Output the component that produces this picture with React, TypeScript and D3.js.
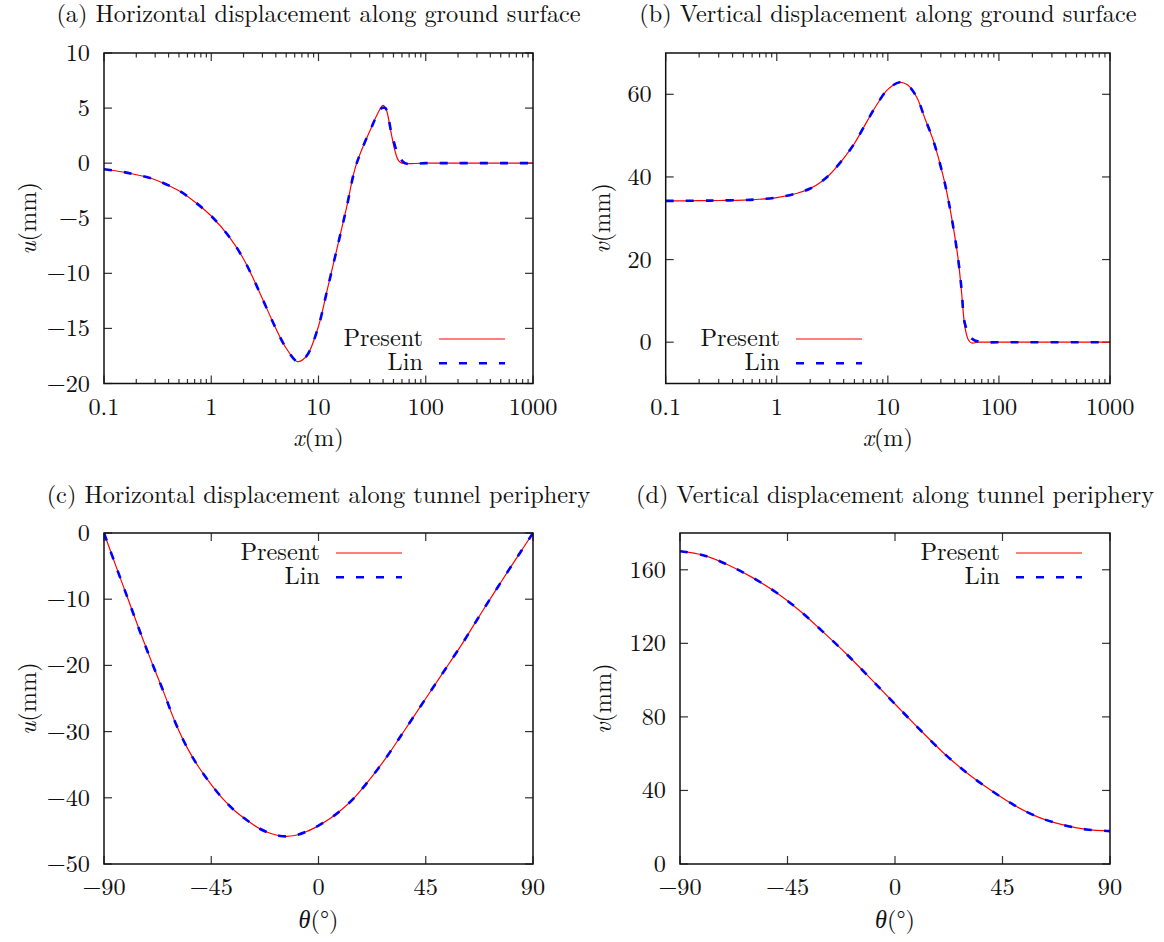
import React from "react";
import * as d3 from "d3";

// ---------- data ----------
// (a) horizontal displacement along ground surface, x in m (log axis), u in mm
const aPresentX = [0.1, 0.15, 0.2, 0.3, 0.5, 0.7, 1, 1.5, 2, 2.5, 3, 4, 5, 6.3, 7, 8, 10, 12, 15, 18.3, 21.9, 26, 32, 36, 40, 43, 47, 52, 56, 60, 100, 1000];
const aPresentU = [-0.55, -0.8, -1.05, -1.5, -2.5, -3.5, -4.8, -6.8, -8.7, -10.6, -12.3, -15.0, -16.8, -18.0, -17.9, -17.3, -14.8, -11.6, -7.6, -4.0, -0.5, 1.5, 3.5, 4.6, 5.25, 4.8, 3.0, 1.0, 0.2, 0.0, 0, 0];
const aLinX = [0.1, 0.15, 0.2, 0.3, 0.5, 0.7, 1, 1.5, 2, 2.5, 3, 4, 5, 6.3, 7, 8, 10, 12, 15, 18.3, 21.9, 26, 32, 36, 39, 42, 48, 55.3, 64, 100, 1000];
const aLinU = [-0.55, -0.8, -1.05, -1.5, -2.5, -3.5, -4.8, -6.8, -8.7, -10.6, -12.3, -15.0, -16.8, -18.0, -17.9, -17.3, -14.8, -11.6, -7.6, -4.0, -0.5, 1.5, 3.5, 4.6, 5.0, 5.0, 2.7, 0.8, 0.0, 0, 0];

// (b) vertical displacement along ground surface
const bPresentX = [0.1, 0.2, 0.3, 0.5, 0.7, 1, 1.5, 2, 2.5, 3, 4, 5, 6, 7, 8, 10, 12.8, 15, 18.2, 21.6, 25.6, 31.6, 35, 38.8, 43.1, 46.2, 49.4, 53, 56.8, 65, 100, 1000];
const bPresentV = [34.2, 34.25, 34.3, 34.4, 34.6, 35.0, 36.0, 37.2, 38.8, 40.6, 44.5, 48.1, 51.8, 55.0, 57.6, 61.2, 62.9, 62.3, 59.3, 54.1, 48.9, 40.0, 34.5, 27.9, 19.8, 11.8, 3.7, 0.6, -0.2, 0, 0, 0];
const bLinX = [0.1, 0.2, 0.3, 0.5, 0.7, 1, 1.5, 2, 2.5, 3, 4, 5, 6, 7, 8, 10, 12.8, 15, 18.2, 21.6, 25.6, 31.6, 35, 38.8, 43.1, 46.2, 49.4, 56.8, 70, 100, 1000];
const bLinV = [34.2, 34.25, 34.3, 34.4, 34.6, 35.0, 36.0, 37.2, 38.8, 40.6, 44.5, 48.1, 51.8, 55.0, 57.6, 61.2, 62.9, 62.3, 59.3, 54.1, 48.9, 40.0, 34.5, 27.9, 19.8, 12.5, 4.5, 0.9, 0, 0, 0];

// (c) horizontal displacement along tunnel periphery, theta in degrees
const cTheta = [-90, -85, -80, -75, -70, -65, -60, -55, -50, -45, -40, -35, -30, -25, -20, -15, -10, -5, 0, 5, 10, 15, 20, 25, 30, 35, 40, 45, 50, 55, 60, 65, 70, 75, 80, 85, 90];
const cPresentU = [0, -5.0, -9.9, -14.8, -19.5, -24.0, -28.7, -32.5, -35.5, -38.0, -40.2, -42.0, -43.4, -44.6, -45.4, -45.8, -45.7, -45.1, -44.2, -43.1, -41.7, -40.0, -37.9, -35.6, -33.1, -30.4, -27.7, -25.0, -22.3, -19.6, -16.9, -14.0, -11.1, -8.3, -5.5, -2.75, 0];
const cLinU = [0, -5.0, -9.9, -14.8, -19.5, -24.0, -28.7, -32.5, -35.5, -38.0, -40.2, -42.0, -43.4, -44.6, -45.4, -45.8, -45.7, -45.1, -44.2, -43.1, -41.7, -40.0, -37.9, -35.6, -33.1, -30.4, -27.7, -25.0, -22.3, -19.6, -16.9, -14.0, -11.1, -8.3, -5.5, -2.75, 0];

// (d) vertical displacement along tunnel periphery
const dTheta = [-90, -80, -70, -60, -50, -40, -30, -20, -10, 0, 10, 20, 30, 40, 50, 60, 70, 80, 90];
const dPresentV = [170.1, 167.8, 162.7, 156.0, 147.9, 137.9, 126.1, 113.8, 100.5, 87.0, 73.6, 60.8, 49.6, 40.2, 31.9, 25.5, 21.4, 18.8, 17.9];
const dLinV = [170.1, 167.8, 162.7, 156.0, 147.9, 137.9, 126.1, 113.8, 100.5, 87.0, 73.6, 60.8, 49.6, 40.2, 31.9, 25.5, 21.4, 18.8, 17.9];

// ticks
const logTicks = [0.1, 1, 10, 100, 1000];
const logTickLabels = ["0.1", "1", "10", "100", "1000"];
const thetaTicks = [-90, -45, 0, 45, 90];
const aYTicks = [10, 5, 0, -5, -10, -15, -20];
const bYTicks = [0, 20, 40, 60];
const cYTicks = [0, -10, -20, -30, -40, -50];
const dYTicks = [0, 40, 80, 120, 160];
const legendNames = ["Present", "Lin"];

// ---------- styling ----------
const FONT = `"Latin Modern Roman", "CMU Serif", "Liberation Serif", serif`;
const FS = 24.3;
const RED = "#ff0000";
const BLUE = "#0000ff";
const TS: React.CSSProperties = { fontFamily: FONT };

const fmtNum = (v: number) => (v < 0 ? "\u2212" + Math.abs(v) : String(v));

type Series = { x: number[]; y: number[]; color: string; width: number; dash?: string };

type PanelCfg = {
  title: string;
  titleY: number;
  left: number;
  right: number;
  top: number;
  bottom: number;
  log: boolean;
  xDomain: [number, number];
  xTicks: number[];
  xTickLabels: string[];
  yDomain: [number, number];
  yTicks: number[];
  series: Series[];
  yVar: string;
  yLabelX: number;
  xVar: string;
  xUnit: string;
  xLabelY: number;
  legX0: number;
  legX1: number;
  legY: number;
};

function Panel({ cfg }: { cfg: PanelCfg }) {
  const x: any = cfg.log
    ? d3.scaleLog().domain(cfg.xDomain).range([cfg.left, cfg.right])
    : d3.scaleLinear().domain(cfg.xDomain).range([cfg.left, cfg.right]);
  const y = d3.scaleLinear().domain(cfg.yDomain).range([cfg.bottom, cfg.top]);
  const MAJ = 8;
  const MIN = 4.5;

  const minor: number[] = [];
  if (cfg.log) {
    for (let dec = 0.1; dec < 999; dec *= 10) {
      for (let k = 2; k <= 9; k++) minor.push(dec * k);
    }
  }

  const line = (s: Series) =>
    d3
      .line<number>()
      .x((_, i) => x(s.x[i]))
      .y((v) => y(v))
      .curve(d3.curveCatmullRom.alpha(0.5))(s.y) || "";

  const clipId = "clip-" + cfg.title.charAt(1);
  const midX = (cfg.left + cfg.right) / 2;
  const midY = (cfg.top + cfg.bottom) / 2;

  return (
    <g>
      <defs>
        <clipPath id={clipId}>
          <rect x={cfg.left} y={cfg.top} width={cfg.right - cfg.left} height={cfg.bottom - cfg.top} />
        </clipPath>
      </defs>
      <text x={midX} y={cfg.titleY} fontSize={FS} style={TS} textAnchor="middle">
        {cfg.title}
      </text>
      {/* ticks */}
      <g stroke="#333" strokeWidth={1.2}>
        {cfg.xTicks.map((t) => (
          <g key={"xt" + t}>
            <line x1={x(t)} x2={x(t)} y1={cfg.bottom} y2={cfg.bottom - MAJ} />
            <line x1={x(t)} x2={x(t)} y1={cfg.top} y2={cfg.top + MAJ} />
          </g>
        ))}
        {minor.map((t) => (
          <g key={"mt" + t}>
            <line x1={x(t)} x2={x(t)} y1={cfg.bottom} y2={cfg.bottom - MIN} />
            <line x1={x(t)} x2={x(t)} y1={cfg.top} y2={cfg.top + MIN} />
          </g>
        ))}
        {cfg.yTicks.map((t) => (
          <g key={"yt" + t}>
            <line x1={cfg.left} x2={cfg.left + MAJ} y1={y(t)} y2={y(t)} />
            <line x1={cfg.right} x2={cfg.right - MAJ} y1={y(t)} y2={y(t)} />
          </g>
        ))}
      </g>
      {/* tick labels */}
      {cfg.xTicks.map((t, i) => (
        <text key={"xl" + t} x={x(t)} y={cfg.bottom + 31} fontSize={FS} style={TS} textAnchor="middle">
          {cfg.xTickLabels[i]}
        </text>
      ))}
      {cfg.yTicks.map((t) => (
        <text key={"yl" + t} x={cfg.left - 14} y={y(t) + 8} fontSize={FS} style={TS} textAnchor="end">
          {fmtNum(t)}
        </text>
      ))}
      {/* curves */}
      <g clipPath={`url(#${clipId})`}>
        {cfg.series.map((s, i) => (
          <path key={i} d={line(s)} fill="none" stroke={s.color} strokeWidth={s.width} strokeDasharray={s.dash} />
        ))}
      </g>
      {/* legend */}
      {cfg.series.map((s, i) => (
        <g key={"lg" + i}>
          <text x={cfg.legX0 - 16} y={cfg.legY + i * 24.3 + 7} fontSize={FS} style={TS} textAnchor="end">
            {legendNames[i]}
          </text>
          <line
            x1={cfg.legX0}
            x2={cfg.legX1}
            y1={cfg.legY + i * 24.3}
            y2={cfg.legY + i * 24.3}
            stroke={s.color}
            strokeWidth={s.width}
            strokeDasharray={s.dash}
          />
        </g>
      ))}
      {/* frame */}
      <rect
        x={cfg.left}
        y={cfg.top}
        width={cfg.right - cfg.left}
        height={cfg.bottom - cfg.top}
        fill="none"
        stroke="#111"
        strokeWidth={1.5}
      />
      {/* axis labels */}
      <text x={midX} y={cfg.xLabelY} fontSize={FS} style={TS} textAnchor="middle">
        <tspan fontStyle="italic">{cfg.xVar}</tspan>
        {cfg.xUnit}
      </text>
      <text
        transform={`translate(${cfg.yLabelX},${midY}) rotate(-90)`}
        fontSize={FS}
        style={TS}
        textAnchor="middle"
        dy="0.35em"
      >
        <tspan fontStyle="italic">{cfg.yVar}</tspan>
        (mm)
      </text>
    </g>
  );
}

const panels: PanelCfg[] = [
  {
    title: "(a) Horizontal displacement along ground surface",
    titleY: 22,
    left: 104,
    right: 533,
    top: 53,
    bottom: 383.5,
    log: true,
    xDomain: [0.1, 1000],
    xTicks: logTicks,
    xTickLabels: logTickLabels,
    yDomain: [-20, 10],
    yTicks: aYTicks,
    series: [
      { x: aPresentX, y: aPresentU, color: RED, width: 1.2 },
      { x: aLinX, y: aLinU, color: BLUE, width: 2.6, dash: "8 12" },
    ],
    yVar: "u",
    yLabelX: 27,
    xVar: "x",
    xUnit: "(m)",
    xLabelY: 446,
    legX0: 439,
    legX1: 505,
    legY: 339,
  },
  {
    title: "(b) Vertical displacement along ground surface",
    titleY: 22,
    left: 665.7,
    right: 1110,
    top: 53,
    bottom: 383.5,
    log: true,
    xDomain: [0.1, 1000],
    xTicks: logTicks,
    xTickLabels: logTickLabels,
    yDomain: [-10, 70],
    yTicks: bYTicks,
    series: [
      { x: bPresentX, y: bPresentV, color: RED, width: 1.2 },
      { x: bLinX, y: bLinV, color: BLUE, width: 2.6, dash: "8 12" },
    ],
    yVar: "v",
    yLabelX: 601,
    xVar: "x",
    xUnit: "(m)",
    xLabelY: 446,
    legX0: 796,
    legX1: 862,
    legY: 339,
  },
  {
    title: "(c) Horizontal displacement along tunnel periphery",
    titleY: 503,
    left: 104,
    right: 533,
    top: 533,
    bottom: 864,
    log: false,
    xDomain: [-90, 90],
    xTicks: thetaTicks,
    xTickLabels: thetaTicks.map(fmtNum),
    yDomain: [-50, 0],
    yTicks: cYTicks,
    series: [
      { x: cTheta, y: cPresentU, color: RED, width: 1.2 },
      { x: cTheta, y: cLinU, color: BLUE, width: 2.6, dash: "8 12" },
    ],
    yVar: "u",
    yLabelX: 27,
    xVar: "\u03b8",
    xUnit: "(\u00b0)",
    xLabelY: 928,
    legX0: 336,
    legX1: 402,
    legY: 553,
  },
  {
    title: "(d) Vertical displacement along tunnel periphery",
    titleY: 503,
    left: 680,
    right: 1110,
    top: 533,
    bottom: 864,
    log: false,
    xDomain: [-90, 90],
    xTicks: thetaTicks,
    xTickLabels: thetaTicks.map(fmtNum),
    yDomain: [0, 180],
    yTicks: dYTicks,
    series: [
      { x: dTheta, y: dPresentV, color: RED, width: 1.2 },
      { x: dTheta, y: dLinV, color: BLUE, width: 2.6, dash: "8 12" },
    ],
    yVar: "v",
    yLabelX: 602,
    xVar: "\u03b8",
    xUnit: "(\u00b0)",
    xLabelY: 928,
    legX0: 1016,
    legX1: 1082,
    legY: 553,
  },
];

export default function App() {
  return (
    <svg
      width={1164}
      height={942}
      viewBox="0 0 1164 942"
      style={{ position: "absolute", left: 0, top: 0, background: "#fff", fontFamily: FONT }}
      fill="#111"
    >
      <rect x={0} y={0} width={1164} height={942} fill="#fff" />
      {panels.map((p, i) => (
        <Panel key={i} cfg={p} />
      ))}
    </svg>
  );
}
